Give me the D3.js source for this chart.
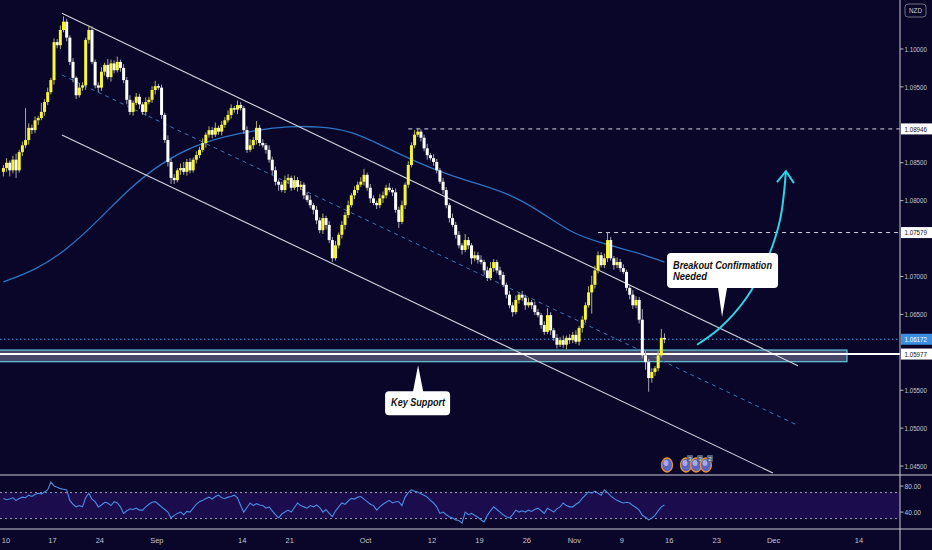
<!DOCTYPE html>
<html><head><meta charset="utf-8">
<script src="https://cdn.jsdelivr.net/npm/d3@7"></script>
<style>html,body{margin:0;padding:0;background:#0a0629;overflow:hidden}svg{display:block}</style>
</head><body>
<svg id="chart" width="932" height="550"></svg>
<script>
// ---------- DATA ----------
const firstOpen = 1.0838;
const closes = [1.0843,1.0850,1.0840,1.0854,1.0840,1.0864,1.0873,1.0880,1.0896,1.0893,
1.0906,1.0909,1.0917,1.0930,1.0943,1.0959,1.1009,1.1005,1.1025,1.1036,
1.1015,1.0983,1.0962,1.0939,1.0949,1.0952,1.1012,1.1025,1.0983,1.0952,
1.0949,1.0970,1.0979,1.0963,1.0981,1.0972,1.0983,1.0975,1.0959,1.0933,
1.0917,1.0929,1.0937,1.0927,1.0917,1.0930,1.0933,1.0946,1.0951,1.0949,
1.0913,1.0880,1.0851,1.0830,1.0827,1.0840,1.0843,1.0838,1.0851,1.0840,
1.0854,1.0860,1.0867,1.0876,1.0887,1.0893,1.0887,1.0896,1.0891,1.0900,
1.0906,1.0913,1.0922,1.0920,1.0926,1.0922,1.0893,1.0867,1.0873,1.0880,
1.0896,1.0876,1.0873,1.0867,1.0854,1.0840,1.0825,1.0821,1.0814,1.0827,
1.0830,1.0817,1.0827,1.0818,1.0821,1.0807,1.0801,1.0794,1.0788,1.0774,
1.0761,1.0777,1.0768,1.0748,1.0724,1.0741,1.0755,1.0768,1.0781,1.0794,
1.0807,1.0814,1.0821,1.0825,1.0834,1.0817,1.0803,1.0797,1.0794,1.0803,
1.0807,1.0817,1.0814,1.0811,1.0788,1.0772,1.0794,1.0821,1.0847,1.0873,
1.0887,1.0891,1.0883,1.0869,1.0860,1.0856,1.0851,1.0840,1.0825,1.0814,
1.0794,1.0777,1.0768,1.0755,1.0741,1.0735,1.0748,1.0741,1.0724,1.0728,
1.0722,1.0719,1.0708,1.0698,1.0711,1.0719,1.0708,1.0702,1.0689,1.0676,
1.0662,1.0653,1.0669,1.0676,1.0672,1.0662,1.0666,1.0662,1.0653,1.0649,
1.0636,1.0627,1.0649,1.0629,1.0619,1.0610,1.0616,1.0610,1.0619,1.0616,
1.0623,1.0614,1.0632,1.0643,1.0662,1.0679,1.0689,1.0708,1.0728,1.0715,
1.0724,1.0748,1.0724,1.0715,1.0719,1.0711,1.0706,1.0685,1.0676,1.0662,
1.0669,1.0643,1.0596,1.0587,1.0566,1.0574,1.0579,1.0596,1.0619,1.0617];
// wick extensions beyond the body, in pips
const wickHi = [4,6,3,5,8,3,5,42,6,4, 5,3,12,4,6,3,5,4,6,7, 4,3,5,2,6,4,3,6,5,3,
4,6,3,8,5,4,7,3,5,4, 6,3,5,4,3,6,4,5,7,3, 4,3,6,4,5,3,6,8,4,5, 3,5,4,6,3,5,4,7,3,5,
4,6,5,3,6,4,3,5,8,4, 9,4,5,3,6,4,5,3,4,6, 5,3,6,4,5,3,4,6,3,5, 4,6,3,5,4,6,3,5,4,6,
3,5,4,6,8,3,5,4,3,6, 5,4,6,3,5,4,6,3,5,4, 6,5,3,4,6,3,5,4,3,5, 4,3,6,4,5,3,8,4,3,5,
4,6,3,5,8,4,3,5,4,3, 5,4,6,3,5,4,6,3,5,4, 3,5,9,4,3,5,4,6,3,5, 4,6,3,5,4,8,12,6,5,4,
6,10,4,3,6,4,5,3,4,6, 5,4,14,6,4,5,3,6,12,6];
const wickLo = [6,5,8,4,10,3,5,4,6,5, 4,6,3,5,4,3,6,4,5,3, 5,4,6,5,3,4,6,5,3,4,
6,4,5,3,6,4,3,5,4,6, 4,5,3,6,4,5,3,4,6,3, 5,4,6,8,5,3,6,4,5,4, 3,5,4,3,6,4,5,3,4,5,
4,3,5,4,6,3,5,4,3,5, 6,4,3,5,4,6,5,8,3,4, 5,4,3,6,4,5,3,4,6,5, 4,5,6,4,5,3,4,5,6,4,
3,5,4,3,5,4,6,3,5,4, 6,4,3,5,4,8,3,5,4,3, 4,3,5,4,6,3,5,4,3,5, 4,6,3,5,4,6,3,5,8,4,
5,3,6,4,3,5,4,6,3,5, 4,6,3,5,4,6,3,5,4,3, 5,4,3,6,4,5,3,4,6,5, 4,3,5,6,4,3,28,5,4,3,
4,5,3,6,4,5,3,4,6,5, 4,5,4,10,18,6,5,4,3,5];
const rsiValues = [61,59,60,62,58,61,63,62,66,64, 67,69,68,71,74,86,80,78,76,75,
74,58,52,48,50,48,62,69,60,56, 48,51,55,54,50,56,54,48,38,42, 45,44,46,43,43,48,52,55,56,52,
48,44,40,31,35,38,40,36,41,40, 46,52,56,58,61,63,60,64,66,62, 61,63,64,66,62,50,40,47,54,50,
53,51,50,46,48,42,36,31,37,40, 43,40,47,54,50,48,46,50,48,51, 47,40,44,38,33,42,48,54,52,57,
61,60,63,64,60,56,52,50,43,48, 52,55,58,54,56,56,50,63,70,74, 72,71,68,66,63,58,54,48,38,40,
36,33,31,28,27,23,40,36,38,35, 32,28,25,35,42,48,44,40,36,33, 31,36,43,40,42,40,43,41,44,46,
42,38,46,43,40,45,48,54,50,48, 48,52,55,61,66,71,69,72,69,66, 74,70,65,61,58,56,54,55,54,50,
47,43,35,32,28,31,35,42,48,51];
const maBars = [0,10,20,30,40,50,60,70,80,90,100,110,120,130,140,150,160,170,180,190,200,209];
const maValues = [1.0693,1.0708,1.0735,1.0774,1.0817,1.0850,1.0872,1.0885,1.0893,1.0898,1.0898,
1.0892,1.0872,1.0852,1.0835,1.0822,1.0809,1.0785,1.0756,1.0743,1.0732,1.0719];
const priceTicks = [1.045,1.050,1.055,1.065,1.070,1.080,1.085,1.095,1.100];
const rsiTicks = [80,40];
const rsiBand = [30,70];
const dateSlots = [0,15,30,48,75,90,114,135,150,165,180,195,210,225,243,270];
const dateLabels = ["10","17","24","Sep","14","21","Oct","12","19","26","Nov","9","16","23","Dec","14"];
const resistanceLevels = [1.08946, 1.07579];
const resistanceStart = [128, 188];
const currentPrice = 1.06172;
const supportLevel = 1.05977;
const supportZone = [1.05876, 1.06030];
const upperChannel = [[18,1.10472],[250.7,1.05823]];
const lowerChannel = [[18,1.08865],[242.8,1.04408]];
const midChannel = [[18,1.09657],[250.4,1.05041]];
const arrowPath = [[218.8,1.0610],[226.0,1.0632],[234.6,1.0673],[240.9,1.0722],[245.0,1.0774],[246.9,1.0839]];
const eventSlots = [209.3,215.3,218.5,221.6];
const eventCounts = ["","3","3","2"];

// ---------- SCALES ----------
const svg = d3.select("#chart");
const W = 932, H = 550, axisX = 900, mainB = 475, rsiB = 529;
const x = d3.scaleLinear().domain([0,270]).range([5,859]);
const y = d3.scaleLinear().domain([1.04382,1.10646]).range([mainB,0]);
const ry = d3.scaleLinear().domain([14,97]).range([rsiB,mainB]);
const bx = j => x(j - 0.5);

svg.append("rect").attr("width",W).attr("height",H).attr("fill","#0a0629");
const defs = svg.append("defs");
defs.append("clipPath").attr("id","mainClip").append("rect").attr("x",0).attr("y",0).attr("width",axisX).attr("height",mainB);
defs.append("clipPath").attr("id","rsiClip").append("rect").attr("x",0).attr("y",mainB).attr("width",axisX).attr("height",rsiB-mainB);

const main = svg.append("g").attr("clip-path","url(#mainClip)");
const lineGen = d3.line().x(d=>x(d[0])).y(d=>y(d[1]));

// support zone
main.append("rect").attr("x",x(-3)).attr("y",y(supportZone[1]))
  .attr("width",x(266.2)-x(-3)).attr("height",y(supportZone[0])-y(supportZone[1]))
  .attr("fill","rgba(150,150,180,0.45)").attr("stroke","#5fc9dc").attr("stroke-width",1.2);

// moving average
main.append("path").datum(maBars.map((b,i)=>[b-0.5,maValues[i]]))
  .attr("d",d3.line().x(d=>x(d[0])).y(d=>y(d[1])).curve(d3.curveBasis))
  .attr("fill","none").attr("stroke","#2f73c2").attr("stroke-width",1.3);

// channel
main.append("path").datum(midChannel).attr("d",lineGen).attr("fill","none")
  .attr("stroke","#3f74b3").attr("stroke-width",1).attr("stroke-dasharray","4,4");
[upperChannel,lowerChannel].forEach(c=>main.append("path").datum(c).attr("d",lineGen)
  .attr("fill","none").attr("stroke","#d4d4de").attr("stroke-width",1.1));

// resistance dashed levels
resistanceLevels.forEach((lv,i)=>main.append("line").attr("x1",bx(resistanceStart[i])).attr("x2",axisX)
  .attr("y1",y(lv)).attr("y2",y(lv)).attr("stroke","#d8d8e0").attr("stroke-width",1).attr("stroke-dasharray","4,4"));

// current price dotted
main.append("line").attr("x1",0).attr("x2",axisX).attr("y1",y(currentPrice)).attr("y2",y(currentPrice))
  .attr("stroke","#4aa3ee").attr("stroke-width",1).attr("stroke-dasharray","1.5,2.5");

// support line
main.append("line").attr("x1",0).attr("x2",axisX).attr("y1",y(supportLevel)).attr("y2",y(supportLevel))
  .attr("stroke","#ffffff").attr("stroke-width",2);

// candles
const bars = closes.map((c,j)=>{
  const o = j===0 ? firstOpen : closes[j-1];
  return {j,o,c,h:Math.max(o,c)+wickHi[j]*0.0001,l:Math.min(o,c)-wickLo[j]*0.0001};
});
const cg = main.append("g");
cg.selectAll("line.w").data(bars).join("line").attr("class","w")
  .attr("x1",d=>bx(d.j)).attr("x2",d=>bx(d.j)).attr("y1",d=>y(d.h)).attr("y2",d=>y(d.l))
  .attr("stroke",d=>d.c>=d.o?"#b0b060":"#a4a4b4").attr("stroke-width",1);
cg.selectAll("rect.b").data(bars).join("rect").attr("class","b")
  .attr("x",d=>bx(d.j)-1.5).attr("width",3)
  .attr("y",d=>y(Math.max(d.o,d.c))).attr("height",d=>Math.max(1.5,Math.abs(y(d.o)-y(d.c))))
  .attr("fill",d=>d.c>=d.o?"#f6f635":"#ffffff");

// arrow
main.append("path").datum(arrowPath).attr("d",d3.line().x(d=>x(d[0])).y(d=>y(d[1])).curve(d3.curveCatmullRom))
  .attr("fill","none").attr("stroke","#2fd3e6").attr("stroke-width",2);
const tip = arrowPath[arrowPath.length-1];
const tx = x(tip[0]), ty = y(tip[1]);
main.append("path").attr("d",`M${tx-9},${ty+11}L${tx},${ty}L${tx+8},${ty+12}`)
  .attr("fill","none").attr("stroke","#2fd3e6").attr("stroke-width",2);

// callouts
function callout(tipX,tipY,left,top,w,h,b1,b2,lines,down){
  const r=4, R=left+w, B=top+h;
  let p;
  if(down){
    p=`M${left+r},${top}H${R-r}Q${R},${top} ${R},${top+r}V${B-r}Q${R},${B} ${R-r},${B}H${tipX+b2}L${tipX},${tipY}L${tipX+b1},${B}H${left+r}Q${left},${B} ${left},${B-r}V${top+r}Q${left},${top} ${left+r},${top}Z`;
  } else {
    p=`M${left+r},${top}H${tipX+b1}L${tipX},${tipY}L${tipX+b2},${top}H${R-r}Q${R},${top} ${R},${top+r}V${B-r}Q${R},${B} ${R-r},${B}H${left+r}Q${left},${B} ${left},${B-r}V${top+r}Q${left},${top} ${left+r},${top}Z`;
  }
  svg.append("path").attr("d",p).attr("fill","#ffffff");
  lines.forEach(t=>svg.append("text").attr("x",t.x).attr("y",t.y).text(t.s)
    .attr("font-family","'Liberation Sans',Arial,sans-serif")
    .attr("font-weight","bold").attr("font-style","italic").attr("font-size",10.5)
    .attr("fill","#111").attr("textLength",t.len).attr("lengthAdjust","spacingAndGlyphs"));
}
{
  const tX = x(226.7), tY = y(1.06465);
  callout(tX,tY,tX-55,tY-64,111,35,-4,5,[
    {s:"Breakout Confirmation",x:tX-49,y:tY-48,len:99},
    {s:"Needed",x:tX-49,y:tY-37,len:34}],true);
  const kX = x(130.6), kY = y(1.0583);
  callout(kX,kY,kX-33,kY+26,65,24,-5,5,[{s:"Key Support",x:kX-27,y:kY+41,len:54}],false);
}

// RSI pane
const rg = svg.append("g").attr("clip-path","url(#rsiClip)");
rg.append("rect").attr("x",0).attr("width",axisX).attr("y",ry(rsiBand[1])).attr("height",ry(rsiBand[0])-ry(rsiBand[1]))
  .attr("fill","#1b0c4e");
rsiBand.forEach(v=>rg.append("line").attr("x1",0).attr("x2",axisX).attr("y1",ry(v)).attr("y2",ry(v))
  .attr("stroke","#9a98b0").attr("stroke-width",1).attr("stroke-dasharray","2,3"));
rg.append("path").datum(rsiValues).attr("d",d3.line().x((d,i)=>bx(i)).y(d=>ry(d)))
  .attr("fill","none").attr("stroke","#4a8de6").attr("stroke-width",1.1);

// event icons
const eg = svg.append("g");
eventSlots.forEach((s,i)=>{
  const ex = x(s), ey = 465;
  eg.append("ellipse").attr("cx",ex).attr("cy",ey).attr("rx",5.5).attr("ry",7)
    .attr("fill","#5a64c8").attr("stroke","#e8912a").attr("stroke-width",1.3);
  eg.append("ellipse").attr("cx",ex-1).attr("cy",ey-2).attr("rx",2.5).attr("ry",3).attr("fill","#c9c6f0").attr("opacity",0.7);
  if(eventCounts[i]){
    eg.append("rect").attr("x",ex+1).attr("y",ey-10).attr("width",6).attr("height",7).attr("fill","#55607a").attr("rx",1);
    eg.append("text").attr("x",ex+4).attr("y",ey-4.5).attr("text-anchor","middle").attr("font-size",6)
      .attr("font-family","Liberation Sans,Arial,sans-serif").attr("fill","#e0e0e0").text(eventCounts[i]);
  }
});

// frame lines
const frameCol = "#c9c9d6";
svg.append("line").attr("x1",0).attr("x2",W).attr("y1",mainB).attr("y2",mainB).attr("stroke",frameCol).attr("stroke-width",1.2);
svg.append("line").attr("x1",0).attr("x2",W).attr("y1",rsiB).attr("y2",rsiB).attr("stroke",frameCol).attr("stroke-width",1.2);
svg.append("line").attr("x1",axisX).attr("x2",axisX).attr("y1",0).attr("y2",H).attr("stroke",frameCol).attr("stroke-width",1);

// price axis
const fontAx = "'Liberation Sans',Arial,sans-serif";
const pa = svg.append("g");
function axLabel(g,xx,yy,s,col,len){
  return g.append("text").attr("x",xx).attr("y",yy).text(s)
    .attr("font-family",fontAx).attr("font-size",7.5).attr("fill",col)
    .attr("textLength",len).attr("lengthAdjust","spacingAndGlyphs");
}
priceTicks.forEach(t=>{
  pa.append("line").attr("x1",axisX).attr("x2",axisX+3.5).attr("y1",y(t)).attr("y2",y(t)).attr("stroke","#b2b5be");
  axLabel(pa,axisX+4.5,y(t)+2.7,d3.format(".5f")(t),"#c2c4cc",22.5);
});
rsiTicks.forEach(t=>{
  pa.append("line").attr("x1",axisX).attr("x2",axisX+3.5).attr("y1",ry(t)).attr("y2",ry(t)).attr("stroke","#b2b5be");
  axLabel(pa,axisX+4.5,ry(t)+2.7,d3.format(".2f")(t),"#c2c4cc",16.5);
});
const boxes = [
  {v:resistanceLevels[0],bg:"#ffffff",fg:"#111"},
  {v:resistanceLevels[1],bg:"#ffffff",fg:"#111"},
  {v:currentPrice,bg:"#3b8fe0",fg:"#ffffff"},
  {v:supportLevel,bg:"#ffffff",fg:"#111"}];
boxes.forEach(b=>{
  pa.append("rect").attr("x",axisX+1).attr("y",y(b.v)-5.5).attr("width",31).attr("height",11).attr("fill",b.bg);
  axLabel(pa,axisX+4.5,y(b.v)+2.7,d3.format(".5f")(b.v),b.fg,22.5);
});
pa.append("rect").attr("x",905).attr("y",4).attr("width",21).attr("height",13).attr("rx",3)
  .attr("fill","none").attr("stroke","#6c6c80");
axLabel(pa,909,13.3,"NZD","#d0d0d8",13);

// date axis
const da = svg.append("g");
dateSlots.forEach((s,i)=>{
  da.append("text").attr("x",Math.max(x(s),6)).attr("y",543).attr("text-anchor","middle").text(dateLabels[i])
    .attr("font-family",fontAx).attr("font-size",7.5).attr("fill","#c2c4cc");
});
</script>
</body></html>
